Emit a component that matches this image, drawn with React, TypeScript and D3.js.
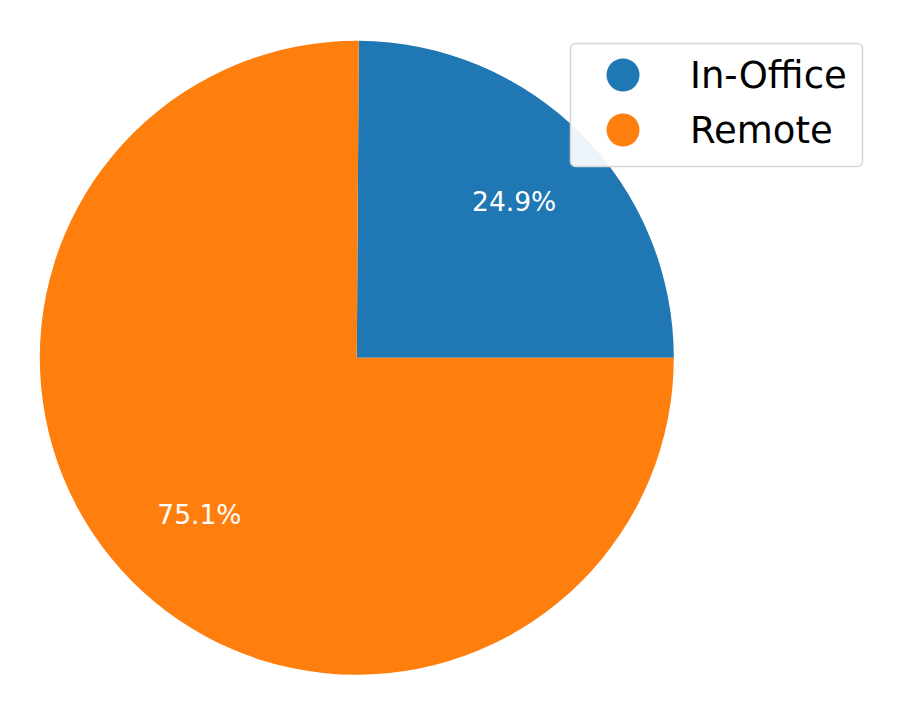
import React from "react";
import * as d3 from "d3";

const categories = ["In-Office", "Remote"];
const values = [24.9, 75.1];
const colors = ["#1f77b4", "#ff7f0e"];

const W = 900;
const H = 705;
const cx = 356.8;
const cy = 357.8;
const R = 317;
const pctDist = 0.7;
const font = "'DejaVu Sans', sans-serif";

export default function App() {
  // matplotlib-style: start at 3 o'clock, go counter-clockwise
  const pie = d3
    .pie<number>()
    .sort(null)
    .value((d) => d)
    .startAngle(Math.PI / 2)
    .endAngle(Math.PI / 2 - 2 * Math.PI)(values);
  const arc = d3.arc<d3.PieArcDatum<number>>().innerRadius(0).outerRadius(R);
  const total = d3.sum(values);
  const legendY = d3.scalePoint<string>().domain(categories).range([75, 130]);

  return (
    <svg width={W} height={H} style={{ position: "absolute", left: 0, top: 0 }}>
      <rect width={W} height={H} fill="#fff" />
      <g transform={`translate(${cx},${cy})`}>
        {pie.map((p, i) => (
          <path key={i} d={arc(p) || ""} fill={colors[i]} />
        ))}
        {pie.map((p, i) => {
          const a = (p.startAngle + p.endAngle) / 2;
          const x = Math.sin(a) * R * pctDist;
          const y = -Math.cos(a) * R * pctDist;
          return (
            <text
              key={i}
              x={x}
              y={y}
              fill="#fff"
              fontFamily={font}
              fontSize={26.5}
              textAnchor="middle"
              dominantBaseline="central"
            >
              {((values[i] / total) * 100).toFixed(1)}%
            </text>
          );
        })}
      </g>
      <g>
        <rect
          x={570.5}
          y={43.5}
          width={292}
          height={123}
          rx={5}
          fill="#fff"
          fillOpacity={0.92}
          stroke="#d6d6d6"
          strokeWidth={1.5}
        />
        {categories.map((c, i) => (
          <g key={c}>
            <line x1={582} x2={662} y1={legendY(c)} y2={legendY(c)} stroke="#fff" strokeWidth={3} />
            <circle cx={623} cy={legendY(c)} r={16.5} fill={colors[i]} />
            <text
              x={690}
              y={legendY(c)}
              fontFamily={font}
              fontSize={37}
              fill="#000"
              dominantBaseline="central"
            >
              {c}
            </text>
          </g>
        ))}
      </g>
    </svg>
  );
}
